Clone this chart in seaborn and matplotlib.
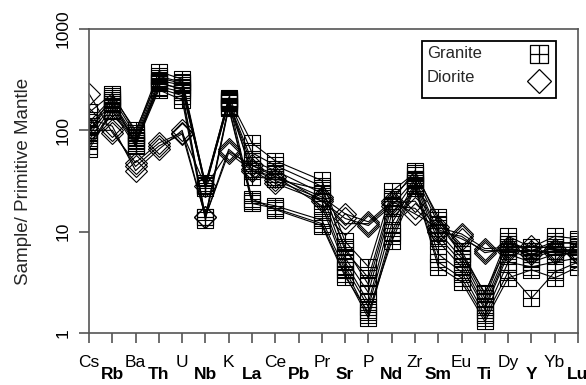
import numpy as np
import pandas as pd
import matplotlib
matplotlib.use("Agg")
import matplotlib.pyplot as plt
from matplotlib.path import Path
from matplotlib.patches import Rectangle
from matplotlib.transforms import ScaledTranslation
import seaborn as sns

# Trace elements, primitive-mantle order
elements = ["Cs", "Rb", "Ba", "Th", "U", "Nb", "K", "La", "Ce", "Pb", "Pr",
            "Sr", "P", "Nd", "Zr", "Sm", "Eu", "Ti", "Dy", "Y", "Yb", "Lu"]

nan = np.nan
# Granite samples (normalised to primitive mantle); Pb not analysed
g1 = [150, 230, 95, 380, 320, 29, 210, 75, 50, nan, 32, 8.0, 4.5, 25, 38, 14, 6.5, 2.4, 9.0, 7.0, 9.0, 8.5]
g2 = [120, 210, 90, 340, 300, 28, 200, 60, 45, nan, 28, 6.5, 3.5, 22, 36, 12, 6.0, 2.2, 8.0, 6.5, 8.0, 7.5]
g3 = [100, 190, 85, 310, 280, 27, 190, 50, 40, nan, 24, 5.5, 2.5, 18, 33, 10, 5.5, 2.0, 7.0, 6.0, 7.0, 7.0]
g4 = [90, 180, 80, 290, 260, 28, 185, 45, 37, nan, 20, 5.0, 2.0, 15, 32, 9.0, 5.0, 1.8, 6.5, 5.5, 6.5, 6.5]
g5 = [80, 170, 78, 270, 240, 14, 175, 40, 35, nan, 18, 4.5, 1.8, 12, 30, 8.0, 4.5, 1.7, 6.0, 5.0, 6.0, 6.0]
g6 = [70, 160, 75, 260, 220, 14, 170, 20, 18, nan, 13, 4.2, 1.5, 10, 29, 6.0, 4.0, 1.5, 5.0, 4.5, 5.0, 5.5]
g7 = [110, 200, 72, 250, 200, 13, 165, 19, 17, nan, 12, 3.8, 1.4, 9.0, 28, 5.0, 3.5, 1.4, 4.0, 2.2, 4.0, 5.0]
g8 = [65, 155, 70, 300, 250, 29, 195, 21, 16.5, nan, 11.5, 3.6, 1.6, 8.0, 27, 4.5, 3.2, 1.3, 3.5, 4.2, 3.5, 4.5]
g9 = [95, 220, 100, 330, 290, 30, 205, 35, 33, nan, 26, 7.0, 3.0, 20, 40, 13, 6.0, 2.5, 7.5, 6.5, 7.5, 8.0]

# Diorite samples
d1 = [230, 95, 48, 75, 95, 28, 62, 45, 35, nan, 22, 15, 12.5, 20, 15, 11, 9.5, 6.8, 7.0, 7.2, 6.8, 6.5]
d2 = [130, 110, 40, 65, 100, 14, 60, 40, 30, nan, 20, 13.5, 11.5, 18, 17, 10, 9.0, 6.2, 6.8, 6.0, 6.5, 6.2]
d3 = [100, 100, 44, 70, 92, 14, 65, 42, 32, nan, 21, 12, 12, 19, 20, 10.5, 8.5, 6.5, 6.5, 6.5, 6.2, 6.0]

granite_samples = {"G1": g1, "G2": g2, "G3": g3, "G4": g4, "G5": g5,
                   "G6": g6, "G7": g7, "G8": g8, "G9": g9}
diorite_samples = {"D1": d1, "D2": d2, "D3": d3}
rock_labels = ["Granite", "Diorite"]


def to_long(samples, rock):
    rows = []
    for name, vals in samples.items():
        for i, (el, v) in enumerate(zip(elements, vals)):
            rows.append({"sample": name, "rock": rock, "element": el, "pos": i, "value": v})
    return pd.DataFrame(rows)


granite_df = to_long(granite_samples, rock_labels[0])
diorite_df = to_long(diorite_samples, rock_labels[1])

sns.set_style("ticks")
plt.rcParams["font.family"] = ["Liberation Sans", "DejaVu Sans"]

# Square with an inner cross
boxplus = Path(
    [(-1, -1), (1, -1), (1, 1), (-1, 1), (-1, -1),
     (0, -1), (0, 1), (-1, 0), (1, 0)],
    [Path.MOVETO, Path.LINETO, Path.LINETO, Path.LINETO, Path.CLOSEPOLY,
     Path.MOVETO, Path.LINETO, Path.MOVETO, Path.LINETO],
)

fig = plt.figure(figsize=(5.86, 3.85), dpi=100)
ax = fig.add_axes([89 / 586, 1 - 333 / 385, (578 - 89) / 586, (333 - 29) / 385])

line_kw = dict(estimator=None, color="black", linewidth=0.8, legend=False,
               markerfacecolor="none", markeredgecolor="black", markeredgewidth=0.8)

sns.lineplot(data=diorite_df, x="pos", y="value", units="sample", ax=ax,
             marker="D", markersize=11, **line_kw)
sns.lineplot(data=granite_df, x="pos", y="value", units="sample", ax=ax,
             marker=boxplus, markersize=11.5, **line_kw)

ax.set_yscale("log")
ax.set_ylim(1, 1000)
ax.set_xlim(0, len(elements) - 1)
ax.set_yticks([1, 10, 100, 1000])
ax.set_yticklabels(["1", "10", "100", "1000"], rotation=90, va="center")
ax.yaxis.set_minor_locator(matplotlib.ticker.NullLocator())
ax.set_xticks(range(len(elements)))
ax.set_xticklabels(elements)

spine_color = "#555555"
for s in ax.spines.values():
    s.set_color(spine_color)
    s.set_linewidth(1.2)
ax.tick_params(axis="both", which="major", direction="out", length=7.5,
               width=1.2, color=spine_color, labelsize=12.5, labelcolor="black")
ax.tick_params(axis="x", pad=8)
ax.tick_params(axis="y", pad=6)

# Alternate element labels: even positions on the upper row, odd ones lower and bold
shift = ScaledTranslation(0, -12.5 / 100, fig.dpi_scale_trans)
for i, lab in enumerate(ax.get_xticklabels()):
    if i % 2 == 1:
        lab.set_fontweight("bold")
        lab.set_transform(lab.get_transform() + shift)

ax.set_xlabel("")
ax.set_ylabel("Sample/ Primitive Mantle", fontsize=13.5, labelpad=17)

# Key box: labels on the left, symbols on the right
ax.add_patch(Rectangle((0.681, 0.773), 0.274, 0.1875, transform=ax.transAxes,
                       facecolor="white", edgecolor="black", linewidth=1.3,
                       zorder=5, clip_on=False))
ax.text(0.691, 0.921, rock_labels[0], transform=ax.transAxes, fontsize=12,
        ha="left", va="center", zorder=6)
ax.text(0.691, 0.842, rock_labels[1], transform=ax.transAxes, fontsize=12,
        ha="left", va="center", zorder=6)
ax.plot([0.920], [0.918], transform=ax.transAxes, linestyle="none",
        marker=boxplus, markersize=13, markerfacecolor="none",
        markeredgecolor="black", markeredgewidth=0.9, zorder=6, clip_on=False)
ax.plot([0.920], [0.829], transform=ax.transAxes, linestyle="none",
        marker="D", markersize=12.5, markerfacecolor="none",
        markeredgecolor="black", markeredgewidth=0.9, zorder=6, clip_on=False)

fig.savefig("out.png", dpi=100)
